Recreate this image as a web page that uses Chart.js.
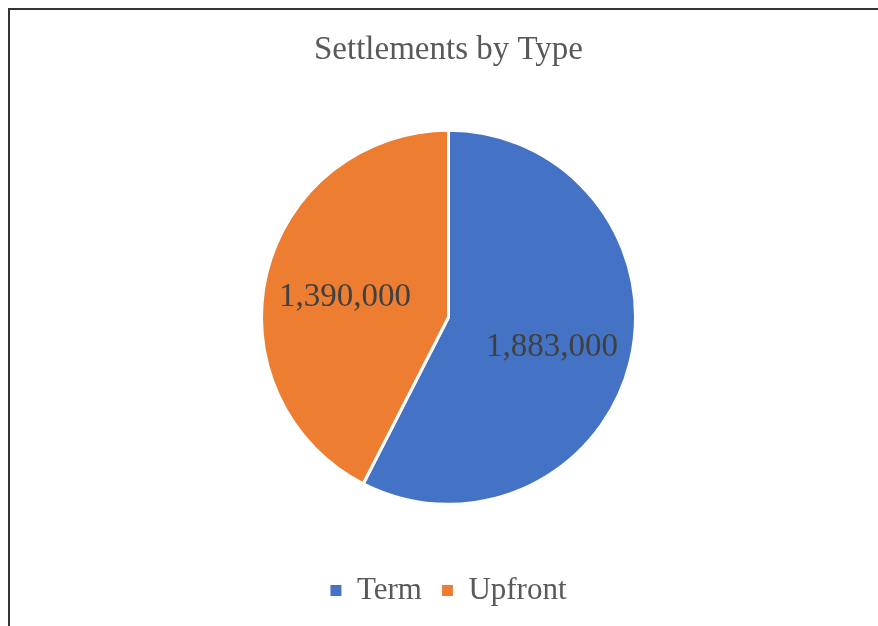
<!DOCTYPE html>
<html>
<head>
<meta charset="utf-8">
<script src="https://cdn.jsdelivr.net/npm/chart.js@4.4.1/dist/chart.umd.min.js"></script>
<style>
  body { margin: 0; background: #fff; }
  #wrap { position: relative; width: 878px; height: 626px; }
  #frame { position: absolute; left: 8px; top: 8px; right: 0; bottom: 0;
           border-left: 2px solid #333; border-top: 2px solid #333; }
  canvas { position: absolute; left: 0; top: 0; }
</style>
</head>
<body>
<div id="wrap">
  <div id="frame"></div>
  <canvas id="chart" width="878" height="626"></canvas>
</div>
<script>
const labels = ['Term', 'Upfront'];
const amounts = [1883000, 1390000];
const colors = ['#4472c4', '#ed7d31'];

const serif = '"Liberation Serif", "DejaVu Serif", serif';

// draws the value inside each slice, like excel data labels
const sliceLabels = {
  id: 'sliceLabels',
  afterDatasetsDraw(chart) {
    const ctx = chart.ctx;
    const meta = chart.getDatasetMeta(0);
    ctx.save();
    ctx.font = '33px ' + serif;
    ctx.fillStyle = '#404040';
    ctx.textAlign = 'center';
    ctx.textBaseline = 'middle';
    meta.data.forEach((arc, i) => {
      const p = arc.getProps(['x', 'y', 'startAngle', 'endAngle', 'outerRadius']);
      const mid = (p.startAngle + p.endAngle) / 2;
      const r = p.outerRadius * 0.57;
      ctx.fillText(amounts[i].toLocaleString('en-US'), p.x + Math.cos(mid) * r, p.y + Math.sin(mid) * r + 5);
    });
    ctx.restore();
  }
};

new Chart(document.getElementById('chart'), {
  type: 'pie',
  data: {
    labels: labels,
    datasets: [{
      data: amounts,
      backgroundColor: colors,
      borderColor: '#ffffff',
      borderWidth: 3
    }]
  },
  plugins: [sliceLabels],
  options: {
    responsive: false,
    animation: false,
    radius: 187,
    layout: {
      padding: { left: 19, bottom: 10 }
    },
    plugins: {
      tooltip: { enabled: false },
      title: {
        display: true,
        text: 'Settlements by Type',
        color: '#595959',
        font: { family: serif, size: 33, weight: 'normal' },
        padding: { top: 31, bottom: 9 }
      },
      legend: {
        position: 'bottom',
        labels: {
          color: '#595959',
          font: { family: serif, size: 31 },
          boxWidth: 11,
          boxHeight: 11,
          padding: 20,
          // plain filled squares, no white outline
          generateLabels(chart) {
            return Chart.overrides.pie.plugins.legend.labels.generateLabels(chart)
              .map(item => Object.assign(item, { lineWidth: 0, strokeStyle: item.fillStyle }));
          }
        }
      }
    }
  }
});
</script>
</body>
</html>
